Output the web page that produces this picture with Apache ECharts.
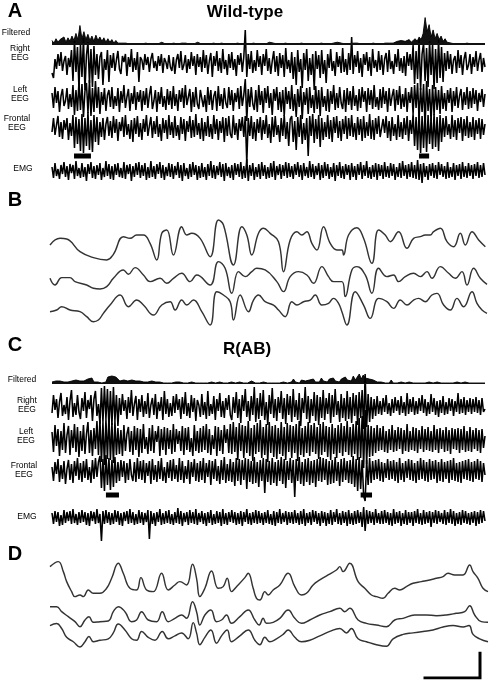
<!DOCTYPE html>
<html><head><meta charset="utf-8">
<script src="https://cdn.jsdelivr.net/npm/echarts@6/dist/echarts.min.js"></script>
<style>html,body{margin:0;padding:0;background:#fff}#c{width:489px;height:680px}</style>
</head><body><div id="c"></div>
<script>
// ---------- Panel A (Wild-type): filtered power trace ----------
const filteredA = [4,1,6,2,5,3,8,2,7,3,9,4,12,5,21,6,14,5,11,4,9,3,10,4,8,3,7,2,6,2,5,1,
 4,1,3,1,3,1,2,0,2,0,1,0,1,0,
 0,1,0,0,1,0,1,0,0,2,0,0,1,0,0,1,0,0,0,1,0,1,0,0,1,0,0,2,0,0,1,0,1,0,0,1,0,0,0,1,0,0,2,0,1,0,0,1,0,0,1,0,2,0,0,1,0,0,1,0,1,0,0,2,0,1,0,0,1,0,0,1,0,0,2,0,1,0,0,1,0,0,1,0,1,0,2,0,0,1,0,0,1,0,0,1,0,2,0,1,0,0,1,0,0,1,0,1,0,0,1,0,2,0,0,1,0,0,1,0,0,1,0,1,0,
 1,0,3,1,4,2,3,1,5,2,4,6,3,8,5,12,30,14,22,8,16,6,12,5,9,3,6,2,4,1,
 2,0,1,0,1,0,0,1,0,0,1,0,2,0,1,0,0];
// ---------- Panel A raw EEG / EMG (one sample per ~1.5 px, 20 samples per row) ----------
const rightA = [
 -10,-15,4,-6,9,-3,11,-8,2,7,-12,5,-4,13,-18,22,-9,16,-25,19,
 -14,25,-27,8,21,-20,14,-24,17,-12,9,-16,6,11,-22,4,-7,13,-19,8,
 -5,10,-8,3,12,-6,-11,7,1,9,-13,6,-4,14,-9,5,-7,11,-19,6,
 3,-7,9,-2,6,-9,4,10,-5,2,-8,7,-3,9,-10,5,1,-6,8,-4,
 -8,6,-11,3,9,-5,12,-7,-2,8,-10,4,-6,11,-3,7,-12,9,-4,6,
 -9,13,-5,8,-11,2,10,-14,7,-3,12,-8,5,-10,14,-6,3,-12,9,-5,
 11,-7,4,-13,8,-2,10,-9,6,33,-14,9,-6,12,-10,3,-8,13,-4,7,
 -12,9,-3,14,-8,5,-11,2,12,-9,7,-13,10,-5,8,-14,15,-6,3,-10,
 11,-16,6,-22,13,-9,4,-25,10,-7,14,-18,5,-12,9,-27,12,-6,8,-15,
 13,-11,3,-20,9,-5,14,-8,2,-13,11,-4,7,-10,15,-9,4,-12,10,-7,
 26,-11,8,-4,12,-10,5,-14,9,-2,11,-8,6,-13,14,-5,3,-9,12,-7,
 8,-12,4,10,-9,13,-6,2,-11,9,-4,14,-8,5,-10,7,-13,11,-3,9,
 -7,18,-21,12,-16,24,-27,9,20,-18,15,-24,22,-12,19,-26,14,-20,23,-15,
 16,-19,10,-8,12,-6,9,-11,3,7,-10,13,-5,8,-12,4,11,-7,-2,9,
 -11,6,-4,12,-8,3,10,-9,5,-4];
const leftA = [
 6,-9,12,-4,8,-13,3,10,-7,-2,11,-10,5,-8,14,-16,9,-12,17,-11,
 15,-18,8,16,-14,19,-17,11,-13,18,-9,12,-15,7,-6,11,-12,4,9,-8,
 12,-10,3,-7,11,-13,8,-4,14,-9,2,10,-12,6,-5,13,-11,7,-3,9,
 -12,8,-6,11,-9,4,13,-10,-2,9,-13,7,-5,12,-8,3,-11,10,-6,8,
 -10,13,-7,5,-12,9,-3,11,-9,14,-6,2,10,-13,7,-8,12,-5,-10,9,
 11,-8,4,-13,12,-6,9,-11,3,8,-12,13,-7,5,-10,11,-4,-9,12,-6,
 9,-12,6,-3,11,-10,13,-7,4,20,-22,10,-8,12,-5,-11,9,-13,14,-6,
 8,-14,11,-4,13,-9,6,-16,10,-2,12,-11,7,-13,9,-17,12,-5,8,-10,
 14,-12,5,-18,10,-8,13,-20,7,-6,11,-15,12,-9,4,-14,13,-10,9,-17,
 12,-8,3,-12,10,-13,8,-5,14,-11,6,-9,12,-4,-10,9,-13,11,-6,8,
 -11,13,-7,4,-12,10,-9,12,-3,8,-13,11,-6,9,-10,14,-8,2,-11,10,
 -9,12,-5,8,-13,11,-7,3,10,-12,9,-6,13,-10,5,-8,11,-13,7,-4,
 12,-15,14,-9,16,-20,11,-13,15,-28,18,-12,10,-22,14,-16,12,-11,9,-15,
 13,-10,6,-12,9,-4,11,-13,8,-7,12,-9,3,10,-11,7,-6,12,-10,8,
 -9,11,-5,9,-12,6,-3,10,-8,5];
const frontalA = [
 -4,10,-7,3,12,-9,6,-11,8,-2,10,-12,5,-8,13,-20,11,-16,9,-23,
 14,-25,10,-18,16,-22,8,-24,13,-14,11,-17,6,-9,10,-12,4,11,-8,7,
 -10,12,-5,9,-13,6,-3,11,-9,13,-7,4,-11,8,-14,10,-6,12,-9,5,
 -12,9,-4,13,-8,2,11,-10,7,-6,12,-9,4,-13,10,-5,8,-11,13,-7,
 6,-10,12,-8,3,-12,11,-6,9,-13,7,-4,12,-10,8,-9,14,-7,5,-11,
 10,-13,6,-8,12,-9,4,-11,13,-6,9,-12,7,-5,11,-14,10,-8,12,-6,
 -10,13,-7,5,-12,9,-3,11,-9,12,-35,10,-8,12,-11,6,-13,9,-5,11,
 -12,8,-6,13,-10,4,-15,11,-9,12,-7,3,-14,10,-8,13,-11,6,-18,9,
 12,-14,7,-22,11,-9,13,-16,5,-12,10,-28,12,-8,14,-15,9,-11,13,-19,
 10,-12,6,-9,13,-11,8,-14,11,-5,12,-10,7,-13,9,-6,12,-11,10,-8,
 13,-9,5,-12,11,-7,9,-13,12,-10,6,-8,14,-11,8,-12,10,-6,12,-9,
 -11,9,-5,12,-10,7,-13,11,-8,4,-12,13,-9,6,-11,10,-7,12,-13,8,
 -6,14,-18,11,-22,16,-25,12,-20,15,-24,13,-16,10,-21,14,-19,11,-23,13,
 -14,10,-9,12,-7,4,-11,13,-9,8,-12,10,-5,11,-13,9,-8,12,-10,6,
 -9,11,-12,8,-6,10,-11,9,-7,4];
const emgA = [
 4,-7,8,-5,2,-8,6,-3,9,-6,5,-9,7,-2,6,-8,10,-5,3,-7,
 8,-6,4,-10,7,-3,9,-7,5,-8,6,-4,8,-9,3,-6,10,-5,7,-8,
 5,-9,7,-4,8,-6,3,-7,9,-8,6,-3,7,-10,5,-6,8,-4,9,-7,
 6,-5,8,-9,4,-7,10,-6,5,-8,7,-3,9,-7,6,-9,4,-5,8,-6,
 7,-8,5,-4,9,-7,6,-10,8,-5,3,-8,7,-6,9,-4,6,-9,5,-7,
 8,-6,4,-9,7,-5,10,-7,6,-8,5,-4,9,-6,7,-10,8,-5,4,-7,
 6,-9,8,-4,7,-6,9,-8,5,-7,12,-10,6,-5,8,-9,4,-6,7,-8,
 9,-5,6,-8,4,-7,8,-6,10,-9,5,-4,7,-8,6,-5,9,-7,8,-6,
 5,-8,7,-4,9,-6,6,-9,8,-5,4,-7,10,-6,7,-8,5,-4,8,-9,
 6,-7,9,-5,7,-8,4,-6,8,-10,6,-5,9,-7,5,-8,7,-4,6,-9,
 8,-6,5,-9,7,-4,9,-8,6,-5,10,-7,4,-8,6,-6,8,-9,7,-5,
 6,-8,9,-6,5,-7,8,-5,7,-9,4,-6,8,-7,10,-5,6,-8,7,-6,
 9,-7,6,-8,11,-9,7,-12,8,-6,5,-9,7,-5,8,-7,6,-8,9,-4,
 7,-6,5,-8,9,-7,4,-6,8,-9,6,-5,7,-8,9,-6,5,-7,8,-5,
 6,-8,7,-5,9,-7,6,-6,8,-4];
const stimA = [[14.7, 26], [245, 251.7]];   // sample-index intervals of the expanded epochs

// ---------- Panel B (expanded Wild-type epoch), [time, amplitude] ----------
const traceB1 = [[0,0],[30,20],[50,18],[90,-20],[130,-38],[170,-45],[190,-28],[220,25],[240,20],[260,30],[280,30],[300,5],[320,-45],[335,35],[350,45],[370,-30],[395,55],[410,30],[425,35],[450,20],[480,-35],[505,75],[520,60],[550,-60],[575,55],[590,30],[605,-30],[625,35],[640,50],[660,35],[685,10],[700,-80],[720,15],[740,40],[755,30],[770,40],[785,5],[800,-15],[820,55],[840,5],[860,-15],[875,-15],[880,-30],[895,30],[920,52],[940,20],[965,-55],[985,45],[1005,30],[1020,10],[1045,40],[1070,-10],[1090,20],[1110,25],[1125,30],[1140,30],[1150,40],[1170,50],[1190,10],[1210,-5],[1230,35],[1245,0],[1265,40],[1285,15],[1305,-5]];
const traceB2 = [[0,0],[15,-20],[35,2],[60,2],[75,-10],[110,-20],[130,-30],[150,-32],[170,-25],[190,0],[220,25],[235,12],[255,32],[280,10],[300,-10],[330,0],[350,-15],[370,0],[395,15],[420,-10],[440,10],[480,-20],[505,50],[525,30],[545,-45],[565,20],[585,5],[605,20],[620,30],[645,25],[680,-10],[700,-40],[720,5],[745,20],[770,10],[790,-15],[815,35],[835,5],[850,-10],[875,-10],[885,-55],[905,25],[920,35],[945,10],[965,-45],[985,30],[1010,5],[1030,10],[1045,-10],[1065,5],[1090,15],[1110,5],[1130,20],[1145,0],[1170,35],[1195,15],[1215,0],[1235,20],[1250,-20],[1270,30],[1290,0],[1310,-18]];
const traceB3 = [[0,0],[20,5],[35,15],[60,5],[90,0],[110,-15],[130,-30],[145,-25],[160,-5],[180,20],[210,50],[235,15],[260,35],[280,20],[310,-10],[335,20],[360,30],[375,5],[395,35],[410,20],[430,35],[455,0],[480,-40],[500,60],[520,50],[540,30],[550,-25],[570,50],[595,0],[610,35],[625,50],[645,30],[670,20],[685,5],[705,-15],[725,30],[740,20],[760,30],[780,35],[795,50],[815,20],[835,25],[850,40],[865,25],[875,0],[890,-40],[915,60],[940,20],[960,-20],[985,40],[1010,30],[1030,10],[1050,35],[1070,20],[1090,35],[1105,40],[1125,30],[1145,50],[1160,55],[1180,20],[1200,5],[1220,40],[1240,15],[1265,60],[1280,25],[1295,5],[1310,-5]];

// ---------- Panel C (R(AB)) ----------
const filteredC = [1,0,2,1,2,0,1,2,1,0,2,1,3,1,2,1,2,0,4,2,5,1,3,1,2,0,2,1,
 6,8,7,8,6,7,
 2,1,3,1,2,2,3,1,2,1,2,0,
 1,0,1,0,2,0,1,0,1,0,0,1,0,1,0,0,1,0,1,0,0,1,0,0,1,
 0,0,1,0,0,0,1,0,0,1,0,0,0,1,0,0,2,0,0,1,0,0,0,1,0,0,1,0,0,2,0,0,1,0,0,1,0,0,1,0,
 1,0,2,0,1,1,3,0,2,1,4,1,2,0,3,1,2,1,3,2,4,1,3,1,5,2,3,1,4,2,5,2,3,1,4,2,6,3,5,2,
 7,3,6,9,4,8,5,3,4,2,3,1,
 1,0,1,0,0,1,0,3,0,1,0,0,1,0,0,0,1,0,0,1,0,0,0,1,0,0,1,0,0,0,1,0,0,1,0,0,0,1,0,0,1,0,0,0,1,0,0,1,0,0,0,1,0,0,0];
const rightC = [
 -6,12,-3,8,-11,5,14,-9,2,-7,10,-13,6,17,-10,4,-8,12,-5,-12,
 9,-4,15,-11,7,-2,12,-14,8,16,-9,3,-17,19,-15,21,-12,18,-20,16,
 -18,20,-14,12,-19,9,-8,13,-4,7,-12,10,-6,17,-9,3,11,-13,8,-5,
 12,-10,6,-7,14,-11,2,9,-8,13,-12,5,-4,10,-13,16,-7,8,-10,4,
 -9,11,-6,13,-3,8,-12,10,-7,15,-9,4,-11,12,-5,9,-14,7,2,-10,
 13,-8,5,-12,16,-9,3,-7,11,-13,8,-4,14,-10,6,-11,9,-3,12,-8,
 -13,10,-6,15,-11,8,-16,12,-4,18,-10,6,-14,11,-8,20,-15,9,-12,14,
 -9,17,-13,5,-18,12,-7,19,-11,8,-14,10,-6,16,-12,9,-17,13,-8,11,
 -15,18,-10,7,-13,14,-19,9,-6,20,-12,11,-16,8,-9,15,-14,12,-18,10,
 -11,17,-13,9,-7,14,-16,12,-10,18,-8,6,-15,13,-11,9,-14,16,-12,10,
 -16,14,-9,12,-18,15,-11,17,-22,33,-20,13,-15,10,-12,8,-9,11,-7,6,
 -8,9,-5,12,-7,4,-9,8,-6,10,-4,7,-8,11,-6,5,-9,14,-7,8,
 -5,10,-8,6,-7,9,-4,12,-6,8,-9,5,-7,13,-5,9,-8,6,-10,7,
 -6,11,-8,5,-7,9,-4,8,-9,6,-5,14,-7,8,-6,10,-8,7,-5,9,
 -7,8,-5,10,-6,7,-8,9,-5,-2];
const leftC = [
 8,-12,15,-6,11,-16,9,-10,17,-13,5,14,-15,10,-8,16,-12,13,-17,9,
 -11,15,-14,6,18,-13,10,-16,12,-9,19,-15,20,-22,18,-25,21,-19,24,-20,
 17,-23,19,-15,12,-14,10,-16,15,-11,6,13,-12,9,-15,14,-10,12,-17,11,
 -13,16,-9,3,-14,12,-11,15,-13,9,-2,14,-16,11,-10,13,-15,12,-9,10,
 -14,16,-12,11,-4,9,-11,14,-15,12,-10,13,-12,2,-16,15,-11,9,-13,12,
 -12,14,-10,16,-13,11,-15,5,-9,14,-16,13,-11,10,-14,15,-3,11,-13,16,
 -14,18,-12,13,-20,17,-11,15,-18,14,-13,19,-16,12,-21,15,-14,17,-12,20,
 -18,13,-15,16,-22,18,-13,14,-17,15,-19,12,-14,18,-16,13,-20,17,-12,15,
 -18,14,-13,16,-21,19,-15,12,-17,14,-13,18,-16,15,-12,17,-14,13,-19,16,
 -15,18,-12,14,-17,13,-20,16,-14,12,-18,15,-13,17,-16,14,-12,19,-15,13,
 -17,16,-14,19,-20,22,-18,24,-28,30,-24,15,-17,14,-16,12,-13,15,-11,12,
 -10,14,-12,9,-13,11,-10,15,-12,10,-11,13,-9,12,-14,10,-11,16,-12,9,
 -10,13,-11,12,-13,10,-9,14,-12,11,-10,13,-11,9,-12,15,-10,11,-13,12,
 -9,10,-12,13,-11,10,-14,12,-9,11,-10,12,-13,11,-10,14,-12,9,-11,13,
 -12,10,-9,12,-11,10,-13,11,-8,4];
const frontalC = [
 4,-10,9,-3,12,-11,6,-8,10,-13,2,11,-9,7,-12,10,-5,13,-9,8,
 -11,10,-7,12,-9,4,-12,11,-8,13,-6,9,15,-17,12,-20,16,-14,13,-19,
 11,-16,14,-12,9,-10,11,-6,10,-12,8,-9,12,-4,-10,9,-11,13,-8,10,
 -9,11,-12,8,-5,10,-13,12,-9,6,-11,10,-8,13,-10,4,-12,9,-7,11,
 -10,12,-8,6,-11,13,-9,10,-12,5,-8,11,-13,9,-6,12,-10,8,-11,10,
 -9,13,-12,8,-6,11,-14,10,-8,12,-10,5,-13,11,-9,14,-12,7,-10,12,
 -11,9,-15,13,-10,12,-14,11,-9,13,-18,12,-11,10,-13,14,-12,9,-16,11,
 -10,13,-22,12,-11,10,-14,13,-12,9,-15,11,-10,14,-13,12,-17,10,-9,13,
 -12,11,-26,12,-10,14,-13,9,-15,12,-11,13,-14,10,-12,11,-16,12,-10,14,
 -11,13,-9,12,-14,10,-13,11,-12,14,-10,9,-15,12,-11,13,-9,10,-12,11,
 -13,15,-16,12,-20,14,-18,11,-25,-30,11,-14,13,-12,10,-9,11,-8,12,-10,
 9,-11,8,-7,12,-9,10,-8,11,-10,9,-12,13,-9,8,-11,10,-7,12,-9,
 11,-10,8,-12,10,-9,13,-8,11,-10,9,-11,12,-9,10,-8,11,-12,9,-10,
 12,-11,9,-8,10,-12,11,-9,13,-10,8,-11,9,-12,10,-8,11,-9,12,-10,
 9,-11,10,-8,12,-9,10,-11,8,-4];
const emgC = [
 5,-6,7,-4,6,-8,3,-7,8,-5,6,-3,7,-6,9,-5,4,-7,6,-5,
 8,-4,6,-7,5,-8,7,-3,6,-6,9,-5,4,-23,7,-6,8,-5,6,-7,
 5,-6,8,-4,7,-7,5,-8,6,-3,7,-6,9,-5,6,-7,4,-6,8,-5,
 6,-7,5,-4,8,-21,7,-6,5,-8,6,-4,9,-7,5,-6,7,-5,8,-6,
 4,-7,6,-5,10,-6,7,-8,5,-4,6,-7,8,-5,6,-6,9,-7,5,-4,
 7,-6,5,-8,6,-5,8,-7,4,-6,7,-5,6,-8,9,-6,5,-7,6,-4,
 8,-5,6,-7,5,-6,7,-8,6,-4,9,-6,5,-7,6,-5,8,-6,7,-5,
 5,-7,6,-5,8,-6,4,-7,7,-8,6,-5,9,-6,5,-4,7,-7,6,-5,
 6,-6,8,-5,5,-7,7,-6,9,-8,5,-5,6,-7,8,-4,7,-6,5,-8,
 7,-5,6,-8,5,-6,8,-7,6,-4,9,-6,5,-7,7,-5,6,-8,8,-6,
 5,-7,7,-6,8,-5,6,-9,11,-13,8,-6,7,-5,6,-7,9,-5,5,-6,
 7,-6,8,-5,6,-7,5,-8,9,-6,6,-5,7,-8,5,-6,8,-7,6,-5,
 6,-8,7,-5,9,-6,5,-7,8,-6,6,-5,7,-9,6,-5,8,-6,7,-4,
 5,-6,8,-7,6,-5,9,-6,7,-8,5,-6,6,-7,8,-5,7,-6,5,-7,
 6,-5,7,-8,6,-6,8,-5,7,-3];
const stimC = [[36, 44.7], [206, 213.6]];

// ---------- Panel D (expanded R(AB) epoch), [time, amplitude] ----------
const traceD1 = [[0,35],[25,50],[40,20],[50,-10],[65,-40],[75,-55],[90,-50],[100,-55],[115,-35],[130,-45],[150,-45],[170,-30],[185,0],[205,45],[220,15],[240,-30],[260,-35],[273,2],[290,-35],[310,-40],[335,15],[355,-35],[375,-20],[390,-10],[410,-20],[428,42],[440,0],[450,-55],[465,-30],[485,22],[505,-30],[520,-25],[532,0],[545,-40],[560,-25],[585,2],[595,15],[610,-30],[620,-60],[630,-65],[645,-40],[655,-50],[670,-35],[690,-20],[715,15],[735,-25],[755,-50],[770,-45],[790,-20],[810,-5],[835,10],[860,25],[870,35],[880,20],[900,45],[925,-10],[945,-30],[965,-50],[980,-55],[1000,-60],[1015,-45],[1035,-30],[1050,-35],[1070,-25],[1090,-15],[1115,-10],[1140,-5],[1160,0],[1180,5],[1195,15],[1215,10],[1240,10],[1260,40],[1270,20],[1285,0],[1300,-30],[1315,-40]];
const traceD2 = [[0,25],[20,25],[35,10],[55,-5],[75,-20],[90,-35],[105,-15],[117,-5],[130,-22],[150,-20],[175,-18],[190,10],[205,25],[225,10],[245,-20],[260,-15],[275,10],[295,-15],[320,-20],[337,10],[355,-20],[375,-10],[395,0],[410,-10],[428,40],[440,10],[450,-30],[465,0],[483,15],[500,-20],[515,-15],[530,0],[545,-25],[570,-5],[595,15],[615,-15],[628,-30],[640,-10],[650,-25],[670,-22],[690,-10],[715,15],[735,-10],[755,-25],[780,-15],[810,0],[840,10],[870,20],[885,10],[900,20],[925,-15],[950,-25],[980,-30],[1010,-35],[1035,-15],[1060,-10],[1095,0],[1130,0],[1160,-2],[1190,0],[1220,5],[1245,10],[1260,28],[1275,0],[1295,-20],[1315,-22]];
const traceD3 = [[0,35],[20,42],[35,25],[50,-5],[70,-20],[90,-38],[105,-20],[117,-2],[130,-20],[150,-15],[175,-10],[190,10],[205,40],[225,20],[245,-10],[260,-15],[275,15],[295,-5],[315,-15],[337,15],[355,-10],[375,0],[395,10],[415,-10],[430,45],[440,10],[450,-30],[465,-5],[483,20],[500,-25],[515,0],[532,20],[545,-20],[570,0],[595,20],[615,-15],[630,-30],[645,-5],[660,-20],[680,-10],[700,5],[715,20],[735,-5],[755,-20],[780,-15],[810,0],[840,15],[870,25],[890,10],[905,25],[925,-10],[950,-20],[980,-30],[1010,-35],[1030,-10],[1060,5],[1090,10],[1120,15],[1150,20],[1180,30],[1210,35],[1240,30],[1258,35],[1270,5],[1290,-10],[1315,-20]];

// scale bar (one time unit by one amplitude unit)
const scaleBarX = [0, 1, 1];
const scaleBarY = [0, 0, 1];

// ---------- build ----------
const FONT = "'Liberation Sans', Arial, sans-serif";
const grids = [], xAxes = [], yAxes = [], series = [];
function addGrid(left, width, top, height, xmax, ymin, ymax) {
  const gi = grids.length;
  grids.push({left: left, width: width, top: top, height: height});
  xAxes.push({gridIndex: gi, type: 'value', min: 0, max: xmax, show: false});
  yAxes.push({gridIndex: gi, type: 'value', min: ymin, max: ymax, show: false});
  return gi;
}
function rawTrace(arr, yc, opts) {
  const gi = addGrid(52, 433, yc - 50, 100, arr.length - 1, -50, 50);
  const s = {type: 'line', xAxisIndex: gi, yAxisIndex: gi, data: arr.map((v, i) => [i, v]),
    symbol: 'none', silent: true, lineStyle: {color: '#000', width: (opts && opts.lw) || 1.55}};
  if (opts && opts.area) {
    s.areaStyle = {color: '#111', origin: 0, opacity: 1};
    s.markLine = {symbol: 'none', silent: true, label: {show: false},
      data: [{yAxis: 0}], lineStyle: {color: '#111', width: opts.base, type: 'solid'}};
  }
  series.push(s);
  return gi;
}
function stimBars(stim, gi, level) {
  stim.forEach(p => series.push({type: 'line', xAxisIndex: gi, yAxisIndex: gi,
    data: [[p[0], level], [p[1], level]], symbol: 'none', silent: true,
    lineStyle: {color: '#000', width: 5, cap: 'butt'}}));
}
function smoothTrace(pairs, yc, xmax, width) {
  const gi = addGrid(50, width, yc - 50, 100, xmax, -150, 150);
  series.push({type: 'line', xAxisIndex: gi, yAxisIndex: gi, data: pairs, symbol: 'none',
    smooth: 0.45, silent: true, lineStyle: {color: '#333', width: 1.45}});
}

// Panel A
rawTrace(filteredA, 38, {area: true, base: 2, lw: 0.9});
rawTrace(rightA, 63);
rawTrace(leftA, 99);
const gFA = rawTrace(frontalA, 128);
stimBars(stimA, gFA, -28);
rawTrace(emgA, 171);
// Panel B
smoothTrace(traceB1, 245, 1310, 437);
smoothTrace(traceB2, 278.3, 1310, 437);
smoothTrace(traceB3, 311.7, 1310, 437);
// Panel C
rawTrace(filteredC, 383, {area: true, base: 1, lw: 0.9});
rawTrace(rightC, 407);
rawTrace(leftC, 440);
const gFC = rawTrace(frontalC, 471);
stimBars(stimC, gFC, -24);
rawTrace(emgC, 518);
// Panel D
smoothTrace(traceD1, 578.3, 1315, 438);
smoothTrace(traceD2, 615, 1315, 438);
smoothTrace(traceD3, 641.7, 1315, 438);
// Scale bar
const gS = addGrid(425, 55, 653, 25, 1, 0, 1);
series.push({type: 'line', xAxisIndex: gS, yAxisIndex: gS, symbol: 'none', silent: true,
  data: scaleBarX.map((x, i) => [x, scaleBarY[i]]),
  lineStyle: {color: '#000', width: 3, join: 'miter', cap: 'square'}});

// Text
function txt(t, x, y, size, weight, align) {
  return {type: 'text', x: x, y: y, silent: true,
    style: {text: t, fill: '#000', font: (weight || 'normal') + ' ' + size + 'px ' + FONT,
      textAlign: align || 'center', textVerticalAlign: 'middle', lineHeight: size + 0.5}};
}
const graphics = [
  txt('A', 15, 11, 20, 'bold'),
  txt('Wild-type', 245, 12, 17, 'bold'),
  txt('Filtered', 16, 33, 8.5),
  txt('Right\nEEG', 20, 53, 8.5),
  txt('Left\nEEG', 20, 94, 8.5),
  txt('Frontal\nEEG', 17, 123, 8.5),
  txt('EMG', 23, 169, 8.5),
  txt('B', 15, 200, 20, 'bold'),
  txt('C', 15, 345, 20, 'bold'),
  txt('R(AB)', 247, 349, 17, 'bold'),
  txt('Filtered', 22, 380, 8.5),
  txt('Right\nEEG', 27, 405, 8.5),
  txt('Left\nEEG', 26, 436, 8.5),
  txt('Frontal\nEEG', 24, 470, 8.5),
  txt('EMG', 27, 517, 8.5),
  txt('D', 15, 554, 20, 'bold')
];

const chart = echarts.init(document.getElementById('c'), null, {renderer: 'canvas', width: 489, height: 680});
chart.setOption({animation: false, backgroundColor: '#fff',
  grid: grids, xAxis: xAxes, yAxis: yAxes, series: series, graphic: graphics});
</script></body></html>
